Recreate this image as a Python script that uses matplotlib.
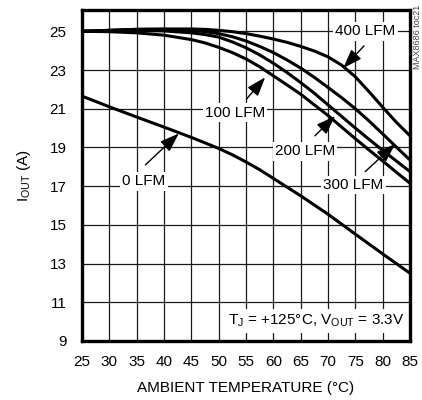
import matplotlib
matplotlib.use("Agg")
import matplotlib.pyplot as plt

FONT = ['Liberation Sans', 'DejaVu Sans']
plt.rcParams['font.family'] = FONT
plt.rcParams['mathtext.fontset'] = 'custom'
plt.rcParams['mathtext.rm'] = 'Liberation Sans'
plt.rcParams['mathtext.it'] = 'Liberation Sans'

temps_0 = [25, 30, 35, 40, 45, 50, 52.5, 55, 57.5, 60, 65, 70, 75, 80, 85]
lfm0 = [21.65, 21.1, 20.57, 20.05, 19.52, 18.95, 18.62, 18.25, 17.85, 17.4,
        16.5, 15.55, 14.52, 13.5, 12.5]

temps_up = [25, 30, 35, 40, 45, 47.5, 50, 52.5, 55, 57.5, 60, 62.5, 65, 67.5,
            70, 72.5, 75, 77.5, 80, 82.5, 85]
lfm100 = [25.0, 24.98, 24.92, 24.8, 24.57, 24.4, 24.17, 23.9, 23.57, 23.17, 22.7,
          22.23, 21.75, 21.2, 20.65, 20.05, 19.45, 18.87, 18.3, 17.72, 17.15]
lfm200 = [25.0, 25.03, 25.05, 25.02, 24.92, 24.83, 24.7, 24.45, 24.15, 23.78, 23.35,
          22.87, 22.35, 21.8, 21.2, 20.6, 20.0, 19.42, 18.85, 18.3, 17.75]
lfm300 = [25.0, 25.05, 25.1, 25.1, 25.05, 24.98, 24.88, 24.72, 24.5, 24.22, 23.9,
          23.52, 23.1, 22.62, 22.1, 21.57, 21.0, 20.37, 19.7, 19.02, 18.35]
lfm400 = [25.0, 25.05, 25.1, 25.12, 25.12, 25.1, 25.05, 24.98, 24.88, 24.75, 24.6,
          24.43, 24.22, 23.98, 23.68, 23.25, 22.65, 21.88, 21.08, 20.3, 19.6]

series_labels = ['0 LFM', '100 LFM', '200 LFM', '300 LFM', '400 LFM']
x_ticks = [25, 30, 35, 40, 45, 50, 55, 60, 65, 70, 75, 80, 85]
y_ticks = [9, 11, 13, 15, 17, 19, 21, 23, 25]

fig = plt.figure(figsize=(4.22, 4.0), dpi=100)
ax = fig.add_axes([82/422, 1-341/400, (410-82)/422, (341-10)/400])
ax.set_xlim(25, 85)
ax.set_ylim(9, 26.1)
ax.set_xticks(x_ticks)
ax.set_yticks(y_ticks)
ax.tick_params(axis='x', length=0, labelsize=11, pad=10)
ax.tick_params(axis='y', length=0, labelsize=11, pad=11)
ax.grid(True, color='#1a1a1a', lw=0.9)
ax.set_axisbelow(True)
for s in ax.spines.values():
    s.set_linewidth(2.4)
    s.set_zorder(6)

ax.plot(temps_0, lfm0, color='black', lw=2.2, zorder=3)
for ys in [lfm100, lfm200, lfm300, lfm400]:
    ax.plot(temps_up, ys, color='black', lw=2.2, zorder=3)

bb = dict(boxstyle='square,pad=0.15', fc='white', ec='none')
lab_pos = [(36.3, 17.25), (53.0, 20.8), (65.8, 18.8), (74.6, 17.05), (76.8, 25.0)]
arrows = [((36.6, 18.1), (42.7, 19.72)),
          ((55.1, 21.5), (58.5, 22.62)),
          ((67.6, 19.6), (71.3, 20.62)),
          ((76.8, 17.75), (82.3, 19.18)),
          ((76.6, 24.25), (72.8, 23.1))]
for lab, (tx, ty) in zip(series_labels, lab_pos):
    ax.text(tx, ty, lab, ha='center', va='center', fontsize=11, bbox=bb, zorder=4)
for tail, tip in arrows:
    ax.annotate('', xy=tip, xytext=tail,
                arrowprops=dict(arrowstyle='-|>,head_length=0.9,head_width=0.32',
                                lw=1.0, color='black', shrinkA=0, shrinkB=0,
                                mutation_scale=13), zorder=5)

ax.text(84.0, 10.05, r'T$_\mathrm{J}$ = +125°C, V$_\mathrm{OUT}$ = 3.3V',
        ha='right', va='center', fontsize=11,
        bbox=dict(boxstyle='square,pad=0.25', fc='white', ec='none'), zorder=4)

ax.set_xlabel('AMBIENT TEMPERATURE (°C)', fontsize=11, labelpad=9)
ax.set_ylabel(r'I$_\mathrm{OUT}$ (A)', fontsize=11, labelpad=12)

fig.text(418/422, 1-5/400, 'MAX8686 toc21', rotation=90, ha='center', va='top',
         fontsize=6.5, color='#444444')

fig.savefig('out.png', dpi=100)
